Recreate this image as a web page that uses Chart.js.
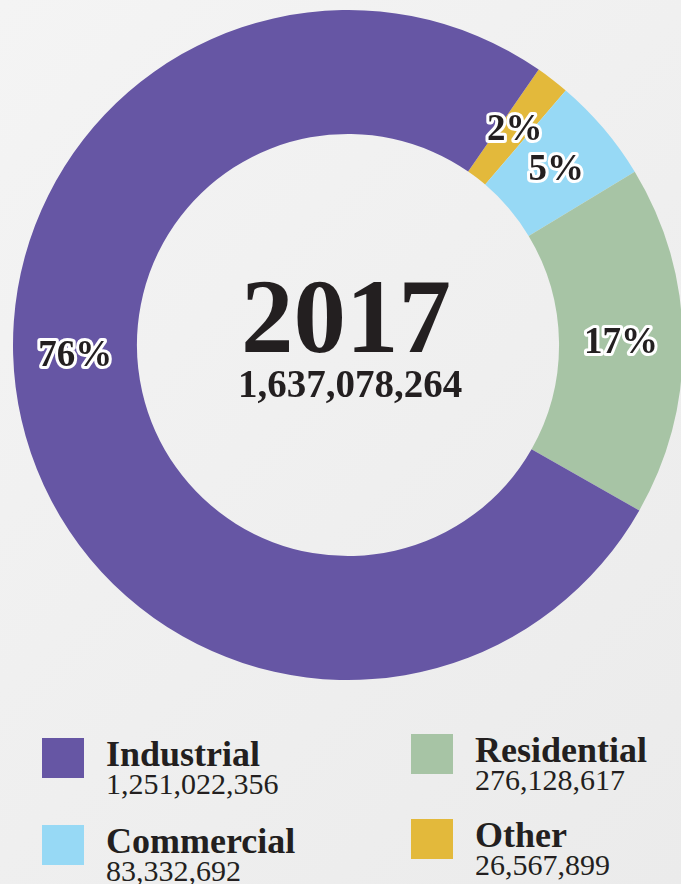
<!DOCTYPE html>
<html>
<head>
<meta charset="utf-8">
<script src="https://cdn.jsdelivr.net/npm/chart.js@4/dist/chart.umd.min.js"></script>
<style>
  html, body { margin: 0; padding: 0; }
  body {
    width: 681px; height: 884px; overflow: hidden; position: relative;
    background: linear-gradient(135deg, #f4f4f4 0%, #efefef 55%, #ebebeb 100%);
    font-family: "Liberation Serif", serif; color: #231f20;
  }
  #myChart { position: absolute; left: 13px; top: 10px; }
  .item { position: absolute; }
  .sw { position: absolute; left: 0; top: 0; width: 42px; height: 40px; }
  .name { position: absolute; left: 64px; top: -2px; font-weight: bold; font-size: 36px; line-height: 36px; white-space: nowrap; }
  .val { position: absolute; left: 64px; top: 31px; font-size: 30px; line-height: 30px; white-space: nowrap; }
</style>
</head>
<body>
<canvas id="myChart" width="670" height="670"></canvas>
<div id="legend"></div>
<script>
// data
var categories = ["Other", "Commercial", "Residential", "Industrial"];
var values = [26567899, 83332692, 276128617, 1251022356];
var colors = ["#e3b93b", "#97d9f5", "#a7c4a5", "#6656a4"];
var centerTitle = "2017";
var centerTotal = "1,637,078,264";
var legendOrder = ["Industrial", "Commercial", "Residential", "Other"];

// legend slots (left column, then right column)
var legendSlots = [
  { x: 42, y: 738 }, { x: 42, y: 825 },
  { x: 411, y: 734 }, { x: 411, y: 819 }
];

var legend = document.getElementById("legend");
legendOrder.forEach(function (name, i) {
  var k = categories.indexOf(name);
  var d = document.createElement("div");
  d.className = "item";
  d.style.left = legendSlots[i].x + "px";
  d.style.top = legendSlots[i].y + "px";
  d.innerHTML =
    '<div class="sw" style="background:' + colors[k] + '"></div>' +
    '<div class="name">' + name + '</div>' +
    '<div class="val">' + values[k].toLocaleString("en-US") + '</div>';
  legend.appendChild(d);
});

// percent labels + center text
var ringLabels = {
  id: "ringLabels",
  afterDatasetsDraw: function (chart, args, opts) {
    var c = chart.ctx;
    var meta = chart.getDatasetMeta(0);
    var total = values.reduce(function (a, b) { return a + b; }, 0);
    c.save();
    c.font = "bold 37px 'Liberation Serif'";
    c.textAlign = "center";
    c.textBaseline = "middle";
    c.lineJoin = "round";
    meta.data.forEach(function (arc, i) {
      var p = arc.getProps(["x", "y", "startAngle", "endAngle", "innerRadius", "outerRadius"], true);
      var ang = (p.startAngle + p.endAngle) / 2;
      if (opts.angles[categories[i]] != null) {
        ang = (opts.angles[categories[i]] - 90) * Math.PI / 180;
      }
      var r = (p.innerRadius + p.outerRadius) / 2;
      var x = p.x + Math.cos(ang) * r;
      var y = p.y + Math.sin(ang) * r + 2;
      var txt = Math.round(values[i] / total * 100) + "%";
      c.lineWidth = 6;
      c.strokeStyle = "#ffffff";
      c.strokeText(txt, x, y);
      c.fillStyle = "#231f20";
      c.fillText(txt, x, y);
    });
    var cx = meta.data[0].x, cy = meta.data[0].y;
    c.textBaseline = "alphabetic";
    c.fillStyle = "#231f20";
    c.font = "bold 105px 'Liberation Serif'";
    c.fillText(centerTitle, cx - 2, cy + 7);
    c.font = "bold 39px 'Liberation Serif'";
    c.fillText(centerTotal, cx + 2, cy + 52);
    c.restore();
  }
};

var ctx = document.getElementById("myChart").getContext("2d");
var myChart = new Chart(ctx, {
  type: "doughnut",
  plugins: [ringLabels],
  data: {
    labels: categories,
    datasets: [{
      data: values,
      backgroundColor: colors,
      borderWidth: 0,
      hoverOffset: 0
    }]
  },
  options: {
    responsive: false,
    animation: false,
    events: [],
    rotation: 34.7,
    cutout: "63%",
    layout: { padding: 0 },
    plugins: {
      legend: { display: false },
      tooltip: { enabled: false },
      ringLabels: { angles: { Industrial: 268 } }
    }
  }
});
</script>
</body>
</html>
